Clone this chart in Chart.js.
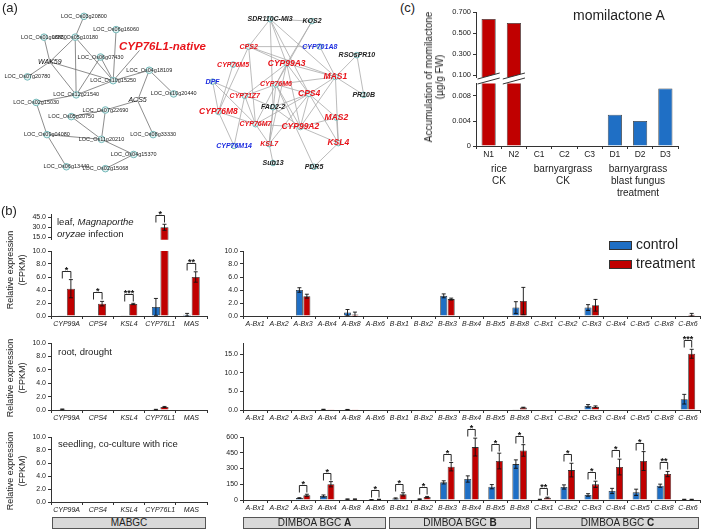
<!DOCTYPE html>
<html>
<head>
<meta charset="utf-8">
<script src="https://cdn.jsdelivr.net/npm/chart.js@4.4.0/dist/chart.umd.min.js"></script>
<style>
body { margin: 0; width: 709px; height: 530px; position: relative; overflow: hidden; background: #fff;
  font-family: "Liberation Sans", Arial, sans-serif; color: #222; }
canvas { position: absolute; }
.t { position: absolute; white-space: nowrap; }
.rot { position: absolute; transform: translate(-50%, -50%) rotate(-90deg); text-align: center; white-space: nowrap; }
.grp { position: absolute; background: #d9d9d9; border: 1px solid #555; box-sizing: border-box; font-size: 10px; text-align: center; line-height: 10px; }
.key { position: absolute; width: 23px; height: 9px; border: 1px solid #333; box-sizing: border-box; }
</style>
</head>
<body>
<canvas id="net"></canvas>
<canvas id="c1"></canvas><canvas id="c2"></canvas>
<canvas id="b1t"></canvas><canvas id="b1l"></canvas><canvas id="b1r"></canvas>
<canvas id="b2l"></canvas><canvas id="b2r"></canvas>
<canvas id="b3l"></canvas><canvas id="b3r"></canvas>

<div class="t" style="left:2px;top:0px;font-size:13px">(a)</div>
<div class="t" style="left:1px;top:203px;font-size:13px">(b)</div>
<div class="t" style="left:400px;top:0px;font-size:13px">(c)</div>
<div class="t" style="left:573px;top:7px;font-size:14px">momilactone A</div>
<div class="rot" style="left:434px;top:77px;font-size:10px;line-height:11px">Accumulation of momilactone<br>(µg/g FW)</div>
<div class="t" style="left:469px;top:163px;width:60px;text-align:center;font-size:10px;line-height:12px">rice<br>CK</div>
<div class="t" style="left:523px;top:163px;width:80px;text-align:center;font-size:10px;line-height:12px">barnyargrass<br>CK</div>
<div class="t" style="left:598px;top:163px;width:80px;text-align:center;font-size:10px;line-height:12px">barnyargrass<br>blast fungus<br>treatment</div>

<div class="rot" style="left:16px;top:270px;font-size:9px;line-height:12px">Relative expression<br>(FPKM)</div>
<div class="rot" style="left:16px;top:378px;font-size:9px;line-height:12px">Relative expression<br>(FPKM)</div>
<div class="rot" style="left:16px;top:471px;font-size:9px;line-height:12px">Relative expression<br>(FPKM)</div>
<div class="t" style="left:57px;top:216px;font-size:9.5px;line-height:12px">leaf, <i>Magnaporthe</i><br><i>oryzae</i> infection</div>
<div class="t" style="left:58px;top:346px;font-size:9.5px">root, drought</div>
<div class="t" style="left:58px;top:438px;font-size:9.5px">seedling, co-culture with rice</div>

<div class="key" style="left:609px;top:241px;background:#1f6fc5"></div>
<div class="t" style="left:636px;top:236px;font-size:14px">control</div>
<div class="key" style="left:609px;top:260px;background:#c00000"></div>
<div class="t" style="left:636px;top:255px;font-size:14px">treatment</div>

<div class="grp" style="left:52px;top:517px;width:154px;height:12px">MABGC</div>
<div class="grp" style="left:243px;top:517px;width:143px;height:12px">DIMBOA BGC <b>A</b></div>
<div class="grp" style="left:389px;top:517px;width:142px;height:12px">DIMBOA BGC <b>B</b></div>
<div class="grp" style="left:536px;top:517px;width:163px;height:12px">DIMBOA BGC <b>C</b></div>

<script>
// ---- data ----
const mabgcGenes = ['CYP99A', 'CPS4', 'KSL4', 'CYP76L1', 'MAS'];
const bxGenes = ['A-Bx1', 'A-Bx2', 'A-Bx3', 'A-Bx4', 'A-Bx8', 'A-Bx6',
  'B-Bx1', 'B-Bx2', 'B-Bx3', 'B-Bx4', 'B-Bx5', 'B-Bx8',
  'C-Bx1', 'C-Bx2', 'C-Bx3', 'C-Bx4', 'C-Bx5', 'C-Bx8', 'C-Bx6'];

// leaf, Magnaporthe oryzae infection
const leafMaCtrl = [0.02, 0, 0.05, 1.4, 0.2];
const leafMaCtrlErr = [0, 0, 0, 1.3, 0.2];
const leafMaTrt = [4.2, 1.9, 1.85, 30, 6.0];
const leafMaTrtErr = [1.4, 0.35, 0.1, 4.5, 0.8];
const leafMaSig = ['*', '*', '***', '*', '**'];
const leafBxCtrl = [0, 0, 4.0, 0, 0.55, 0, 0, 0, 3.1, 0, 0, 1.3, 0, 0, 1.3, 0, 0, 0, 0];
const leafBxCtrlErr = [0, 0, 0.35, 0, 0.45, 0, 0, 0, 0.3, 0, 0, 0.9, 0, 0, 0.45, 0, 0, 0, 0];
const leafBxTrt = [0, 0, 3.05, 0, 0.25, 0, 0, 0, 2.6, 0, 0, 2.3, 0, 0, 1.65, 0, 0, 0, 0.2];
const leafBxTrtErr = [0, 0, 0.3, 0, 0.35, 0, 0, 0, 0.15, 0, 0, 2.1, 0, 0, 0.9, 0, 0, 0, 0.2];

// root, drought
const rootMaCtrl = [0.1, 0, 0, 0.05, 0];
const rootMaCtrlErr = [0.05, 0, 0, 0.05, 0];
const rootMaTrt = [0, 0, 0, 0.45, 0];
const rootMaTrtErr = [0, 0, 0, 0.08, 0];
const rootBxCtrl = [0, 0, 0, 0.15, 0.1, 0, 0, 0, 0, 0, 0, 0.1, 0, 0, 1.1, 0, 0, 0, 2.9];
const rootBxCtrlErr = [0, 0, 0, 0.05, 0.05, 0, 0, 0, 0, 0, 0, 0, 0, 0, 0.35, 0, 0, 0, 1.3];
const rootBxTrt = [0, 0, 0, 0.05, 0.05, 0, 0, 0, 0, 0, 0, 0.65, 0, 0, 0.9, 0, 0, 0, 15.1];
const rootBxTrtErr = [0, 0, 0, 0, 0, 0, 0, 0, 0, 0, 0, 0.1, 0, 0, 0.2, 0, 0, 0, 1.2];
const rootBxSig = ['', '', '', '', '', '', '', '', '', '', '', '', '', '', '', '', '', '', '***'];

// seedling, co-culture with rice
const seedMaCtrl = [0, 0, 0, 0, 0];
const seedMaTrt = [0, 0, 0, 0, 0];
const seedBxCtrl = [0, 0, 18, 38, 8, 2, 15, 8, 168, 200, 127, 342, 5, 124, 48, 86, 73, 136, 5];
const seedBxCtrlErr = [0, 0, 4, 10, 2, 1, 5, 3, 15, 30, 20, 40, 2, 20, 12, 25, 30, 15, 2];
const seedBxTrt = [0, 0, 45, 150, 8, 5, 54, 28, 317, 504, 371, 472, 22, 285, 149, 314, 371, 247, 5];
const seedBxTrtErr = [0, 0, 10, 25, 2, 2, 15, 6, 40, 85, 75, 55, 5, 65, 30, 75, 90, 25, 2];
const seedBxSig = ['', '', '*', '*', '', '*', '*', '*', '*', '*', '*', '*', '**', '*', '*', '*', '*', '**', ''];

// (c) momilactone A, µg/g FW
const momiSamples = ['N1', 'N2', 'C1', 'C2', 'C3', 'D1', 'D2', 'D3'];
const momiA = [0.633, 0.595, 0, 0, 0, 0.005, 0.004, 0.0092];

// (a) co-expression networks: [name, x, y, kind]
const locNodes = [
  ['LOC_Os03g20800', 81, 12, 'loc'], ['LOC_Os06g16060', 114, 26, 'loc'],
  ['LOC_Os01g08880', 40, 34, 'loc'], ['LOC_Os05g10180', 72, 34, 'loc'],
  ['LOC_Os06g07430', 98, 55, 'loc'], ['WAK59', 46, 60, 'gene'],
  ['LOC_Os07g20780', 23, 76, 'loc'], ['LOC_Os10g15250', 111, 80, 'loc'],
  ['LOC_Os04g18109', 148, 69, 'loc'], ['LOC_Os10g20440', 173, 94, 'loc'],
  ['LOC_Os12g21540', 73, 95, 'loc'], ['LOC_Os02g15030', 32, 103, 'loc'],
  ['ACS5', 136, 101, 'gene'], ['LOC_Os07g22690', 103, 111, 'loc'],
  ['LOC_Os05g20750', 68, 118, 'loc'], ['LOC_Os09g04080', 43, 137, 'loc'],
  ['LOC_Os08g33330', 152, 137, 'loc'], ['LOC_Os11g20210', 99, 142, 'loc'],
  ['LOC_Os04g15370', 132, 158, 'loc'], ['LOC_Os06g13440', 63, 171, 'loc'],
  ['LOC_Os02g15068', 103, 173, 'loc'], ['CYP76L1-native', 138, 48, 'key']
];
const locEdges = [[0, 3], [2, 5], [3, 5], [3, 10], [3, 7], [1, 7], [4, 10], [4, 7], [5, 6], [5, 10],
  [5, 7], [7, 8], [7, 21], [10, 7], [8, 9], [8, 12], [12, 13], [12, 16], [13, 14], [13, 17],
  [14, 17], [11, 10], [11, 15], [15, 17], [15, 19], [17, 18], [18, 20]];
const bgcNodes = [
  ['SDR110C-MI3', 272, 15, 'black'], ['KOS2', 315, 17, 'black'], ['CPS2', 250, 44, 'redS'],
  ['CYP701A8', 323, 44, 'blue'], ['RSOsPR10', 361, 53, 'black'], ['CYP76M5', 234, 63, 'redS'],
  ['CYP99A3', 289, 62, 'red'], ['MAS1', 339, 76, 'red'], ['DPF', 213, 81, 'blue'],
  ['CYP76M6', 278, 84, 'redS'], ['CYP71Z7', 246, 96, 'redS'], ['CPS4', 312, 94, 'red'],
  ['PR10B', 368, 95, 'black'], ['FAD2-2', 275, 108, 'black'], ['CYP76M8', 219, 113, 'red'],
  ['MAS2', 340, 119, 'red'], ['CYP76M7', 257, 126, 'redS'], ['CYP99A2', 303, 129, 'red'],
  ['CYP76M14', 235, 149, 'blue'], ['KSL7', 271, 147, 'redS'], ['KSL4', 342, 146, 'red'],
  ['Sub13', 275, 167, 'black'], ['PDR5', 317, 171, 'black']
];
const bgcEdges = [[0, 1], [0, 2], [0, 6], [0, 7], [0, 13], [0, 11], [1, 9], [1, 6], [2, 3], [2, 7],
  [2, 6], [2, 16], [2, 14], [3, 7], [4, 7], [4, 12], [6, 7], [6, 10], [6, 11], [6, 17], [6, 19],
  [6, 16], [7, 9], [7, 11], [7, 20], [7, 12], [7, 17], [8, 14], [8, 13], [8, 16], [5, 14], [9, 10],
  [9, 11], [9, 19], [9, 17], [9, 22], [10, 16], [10, 18], [11, 17], [11, 15], [11, 16], [11, 19],
  [11, 20], [11, 13], [13, 17], [13, 19], [14, 16], [14, 18], [15, 17], [15, 20], [16, 17],
  [16, 19], [17, 20], [19, 21], [20, 22]];

// ---- drawing ----
const FONT = '"Liberation Sans", Arial, sans-serif';
Chart.defaults.font.family = FONT;
const BLUE = '#1f6fc5', RED = '#c00000';

// error bars, significance brackets and axis-break marks
const errSig = {
  id: 'errSig',
  afterDatasetsDraw(chart) {
    const { ctx, chartArea: a } = chart;
    const y = chart.scales.y;
    const sets = chart.data.datasets;
    const tops = [];
    ctx.save();
    ctx.beginPath();
    ctx.rect(a.left - 1, a.top - 1, a.right - a.left + 2, a.bottom - a.top + 2);
    ctx.clip();
    ctx.strokeStyle = '#111';
    ctx.lineWidth = 0.9;
    sets.forEach((d, i) => {
      chart.getDatasetMeta(i).data.forEach((bar, j) => {
        const v = d.data[j], e = d.err ? d.err[j] : 0;
        tops[j] = Math.max(tops[j] ?? -Infinity, v + e);
        if (!e) return;
        const y1 = y.getPixelForValue(v - e), y2 = y.getPixelForValue(v + e);
        ctx.beginPath();
        ctx.moveTo(bar.x, y1); ctx.lineTo(bar.x, y2);
        ctx.moveTo(bar.x - 2, y1); ctx.lineTo(bar.x + 2, y1);
        ctx.moveTo(bar.x - 2, y2); ctx.lineTo(bar.x + 2, y2);
        ctx.stroke();
      });
    });
    ctx.restore();

    const sig = sets[1] && sets[1].sig;
    if (sig) {
      ctx.save();
      ctx.strokeStyle = '#111';
      ctx.fillStyle = '#111';
      ctx.lineWidth = 0.9;
      ctx.font = 'bold 9px ' + FONT;
      ctx.textAlign = 'center';
      sig.forEach((s, j) => {
        if (!s || tops[j] < y.min || tops[j] > y.max) return;
        const b0 = chart.getDatasetMeta(0).data[j], b1 = chart.getDatasetMeta(1).data[j];
        const yb = Math.round(y.getPixelForValue(tops[j]) - 9) + 0.5;
        ctx.beginPath();
        ctx.moveTo(b0.x, yb + 7); ctx.lineTo(b0.x, yb); ctx.lineTo(b1.x, yb); ctx.lineTo(b1.x, yb + 7);
        ctx.stroke();
        ctx.fillText(s, (b0.x + b1.x) / 2, yb + 1);
      });
      ctx.restore();
    }

    if (sets[0].brk) {
      ctx.save();
      ctx.strokeStyle = '#333';
      ctx.lineWidth = 1;
      chart.getDatasetMeta(0).data.forEach((bar, j) => {
        if (sets[0].data[j] <= y.min) return;
        const w = bar.width / 2 + 4;
        ctx.fillStyle = '#fff';
        ctx.beginPath();
        ctx.moveTo(bar.x - w, a.bottom + 2); ctx.lineTo(bar.x + w, a.bottom - 4);
        ctx.lineTo(bar.x + w, a.bottom + 1); ctx.lineTo(bar.x - w, a.bottom + 7);
        ctx.closePath();
        ctx.fill();
        ctx.beginPath();
        ctx.moveTo(bar.x - w, a.bottom + 2); ctx.lineTo(bar.x + w, a.bottom - 4);
        ctx.moveTo(bar.x - w, a.bottom + 7); ctx.lineTo(bar.x + w, a.bottom + 1);
        ctx.stroke();
      });
      ctx.restore();
    }
  }
};

function barChart(id, f, labels, series, o) {
  const YW = o.yw || 30, PT = o.pt ?? 10, PR = o.pr ?? 14, PB = o.pb || 0;
  const XH = o.xFont ? (o.xh || 14) : 0;
  const cv = document.getElementById(id);
  cv.width = f.right - f.axis + YW + PR;
  cv.height = f.bottom - f.top + PT + XH + PB;
  cv.style.left = (f.axis - YW) + 'px';
  cv.style.top = (f.top - PT) + 'px';
  return new Chart(cv, {
    type: 'bar',
    data: {
      labels,
      datasets: series.map((s, i) => ({
        data: s.data, err: s.err, sig: i === 1 ? o.sig : null, brk: o.brk,
        backgroundColor: s.color, borderColor: '#333', borderWidth: 0.8,
        categoryPercentage: o.cat, barPercentage: o.bar || 0.94
      }))
    },
    options: {
      responsive: false, animation: false, events: [],
      layout: { padding: { top: PT, right: PR, bottom: PB, left: 0 } },
      plugins: { legend: { display: false }, tooltip: { enabled: false } },
      scales: {
        x: {
          display: !!o.xFont,
          afterFit: s => { s.height = XH; },
          ticks: { font: o.xFont, color: '#222', maxRotation: 0, autoSkip: false, padding: 1 },
          grid: { drawOnChartArea: false, tickLength: 3, color: '#333' },
          border: { color: '#333' }
        },
        y: {
          min: o.min ?? 0, max: o.max,
          afterFit: s => { s.width = YW; },
          afterBuildTicks: s => { s.ticks = o.ticks.map(v => ({ value: v })); },
          ticks: { font: { size: o.ySize || 7 }, color: '#222', padding: 2, callback: o.fmt },
          grid: { drawOnChartArea: false, tickLength: 3, color: '#333' },
          border: { color: '#333' }
        }
      }
    },
    plugins: [errSig]
  });
}

const fmt1 = v => v.toFixed(1);
const fmtInt = v => String(v);
const geneFont = { size: 7, style: 'italic' };
const tick10 = [0, 2, 4, 6, 8, 10];
const pair = (c, ce, t, te) => [{ data: c, err: ce, color: BLUE }, { data: t, err: te, color: RED }];
const zeros5 = [0, 0, 0, 0, 0];

// (b) row 1: leaf
barChart('b1t', { axis: 51, top: 214, right: 207, bottom: 246 }, mabgcGenes,
  pair(leafMaCtrl, leafMaCtrlErr, leafMaTrt, leafMaTrtErr),
  { cat: 0.55, sig: leafMaSig, min: 11.4, max: 49.8, ticks: [15, 30, 45], fmt: fmt1 });
barChart('b1l', { axis: 51, top: 251, right: 207, bottom: 316 }, mabgcGenes,
  pair(leafMaCtrl, leafMaCtrlErr, leafMaTrt, leafMaTrtErr),
  { cat: 0.55, sig: leafMaSig, max: 10, ticks: tick10, fmt: fmt1, xFont: geneFont });
barChart('b1r', { axis: 243, top: 251, right: 700, bottom: 316 }, bxGenes,
  pair(leafBxCtrl, leafBxCtrlErr, leafBxTrt, leafBxTrtErr),
  { cat: 0.62, max: 10, ticks: tick10, fmt: fmt1, xFont: geneFont });

// row 2: root
barChart('b2l', { axis: 51, top: 343, right: 207, bottom: 410 }, mabgcGenes,
  pair(rootMaCtrl, rootMaCtrlErr, rootMaTrt, rootMaTrtErr),
  { cat: 0.55, max: 10, ticks: tick10, fmt: fmt1, xFont: geneFont });
barChart('b2r', { axis: 243, top: 343, right: 700, bottom: 410 }, bxGenes,
  pair(rootBxCtrl, rootBxCtrlErr, rootBxTrt, rootBxTrtErr),
  { cat: 0.62, sig: rootBxSig, max: 18, ticks: [0, 5, 10, 15], fmt: fmt1, xFont: geneFont, pt: 16 });

// row 3: seedling
barChart('b3l', { axis: 51, top: 437, right: 207, bottom: 502 }, mabgcGenes,
  pair(seedMaCtrl, zeros5, seedMaTrt, zeros5),
  { cat: 0.55, max: 10, ticks: tick10, fmt: fmt1, xFont: geneFont });
barChart('b3r', { axis: 243, top: 437, right: 700, bottom: 500 }, bxGenes,
  pair(seedBxCtrl, seedBxCtrlErr, seedBxTrt, seedBxTrtErr),
  { cat: 0.62, sig: seedBxSig, max: 600, ticks: [0, 150, 300, 450, 600], fmt: fmtInt, xFont: geneFont, pt: 18 });

// (c) broken axis: two stacked charts sharing the same data
const momiColors = momiSamples.map(s => s[0] === 'N' ? RED : BLUE);
barChart('c1', { axis: 476, top: 12, right: 678, bottom: 77 }, momiSamples,
  [{ data: momiA, color: momiColors }],
  { cat: 1, bar: 0.56, yw: 34, ySize: 7.5, min: 0.081, max: 0.7, ticks: [0.1, 0.3, 0.5, 0.7],
    fmt: v => v.toFixed(3), pb: 8, brk: true });
barChart('c2', { axis: 476, top: 83, right: 678, bottom: 146 }, momiSamples,
  [{ data: momiA, color: momiColors }],
  { cat: 1, bar: 0.56, yw: 34, ySize: 7.5, pt: 6, max: 0.01, ticks: [0, 0.004, 0.008],
    fmt: v => v === 0 ? '0' : v.toFixed(3), xFont: { size: 8.5 }, xh: 16 });

// (a) networks
const LABEL = {
  loc: { font: '5.5px ' + FONT, color: '#222' },
  gene: { font: 'italic 7px ' + FONT, color: '#111' },
  key: { font: 'italic bold 11.5px ' + FONT, color: '#e8141b', dx: 23, dy: -4 },
  red: { font: 'italic bold 8.5px ' + FONT, color: '#e8141b' },
  redS: { font: 'italic bold 7px ' + FONT, color: '#e8141b' },
  blue: { font: 'italic bold 7px ' + FONT, color: '#1b2be0' },
  black: { font: 'italic bold 7px ' + FONT, color: '#222' }
};
const NODE_R = { loc: 3.3, gene: 0, key: 0, red: 2.8, redS: 2.8, blue: 2.8, black: 2.8 };

const nodeLabels = {
  id: 'nodeLabels',
  afterDatasetsDraw(chart) {
    const ctx = chart.ctx;
    ctx.save();
    ctx.textAlign = 'center';
    ctx.textBaseline = 'middle';
    chart.data.datasets.forEach((d, i) => {
      if (!d.nodes) return;
      chart.getDatasetMeta(i).data.forEach((pt, j) => {
        const st = LABEL[d.nodes[j][3]];
        ctx.font = st.font;
        ctx.fillStyle = st.color;
        ctx.fillText(d.nodes[j][0], pt.x + (st.dx || 0), pt.y + (st.dy || 0));
      });
    });
    ctx.restore();
  }
};

const edgePoints = (nodes, edges) => edges.flatMap(([p, q]) => [
  { x: nodes[p][1], y: nodes[p][2] }, { x: nodes[q][1], y: nodes[q][2] }, { x: NaN, y: NaN }]);
const nodeSet = nodes => ({
  data: nodes.map(n => ({ x: n[1], y: n[2] })), nodes,
  pointRadius: nodes.map(n => NODE_R[n[3]]),
  pointBackgroundColor: '#e4f2f2', pointBorderColor: '#74b8b8', pointBorderWidth: 1
});

const net = document.getElementById('net');
net.width = 395; net.height = 185;
net.style.left = '0px'; net.style.top = '0px';
new Chart(net, {
  type: 'scatter',
  data: {
    datasets: [
      nodeSet(locNodes), nodeSet(bgcNodes),
      { data: edgePoints(locNodes, locEdges), showLine: true, pointRadius: 0, borderColor: '#707070', borderWidth: 0.8 },
      { data: edgePoints(bgcNodes, bgcEdges), showLine: true, pointRadius: 0, borderColor: '#aaaaaa', borderWidth: 0.8 }
    ]
  },
  options: {
    responsive: false, animation: false, events: [],
    layout: { padding: 0 },
    plugins: { legend: { display: false }, tooltip: { enabled: false } },
    scales: {
      x: { display: false, min: 0, max: 395 },
      y: { display: false, min: 0, max: 185, reverse: true }
    }
  },
  plugins: [nodeLabels]
});
</script>
</body>
</html>
